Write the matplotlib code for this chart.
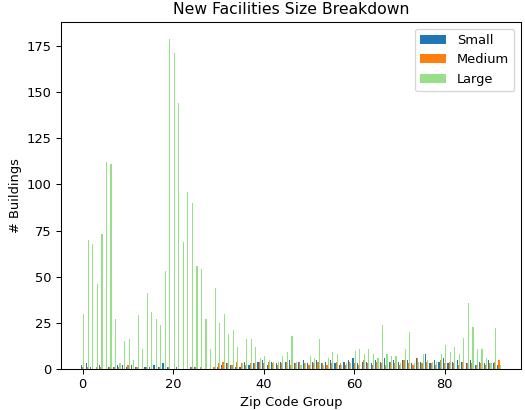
import numpy as np
import matplotlib
matplotlib.use("Agg")
import matplotlib.pyplot as plt

# counts per zip code group (index 0..92)
small = [2, 3, 1, 0, 2, 0, 1, 1, 2, 2, 1, 2, 1, 0, 1, 1, 2, 1, 3, 1,
         0, 1, 0, 0, 1, 1, 0, 0, 0, 0, 1, 2, 3, 2, 1, 1, 4, 2, 3, 4,
         5, 2, 4, 3, 4, 4, 5, 3, 4, 5, 3, 4, 5, 3, 4, 5, 3, 2, 4, 5,
         6, 3, 4, 4, 3, 5, 4, 6, 4, 5, 4, 5, 5, 3, 6, 4, 8, 3, 5, 4,
         6, 3, 4, 5, 4, 3, 5, 2, 4, 3, 5, 3, 2]
medium = [1, 1, 0, 1, 1, 0, 1, 1, 1, 0, 2, 0, 1, 0, 1, 0, 0, 1, 0, 1,
          0, 0, 0, 0, 1, 1, 1, 0, 0, 1, 3, 4, 3, 2, 4, 3, 2, 3, 3, 4,
          3, 4, 3, 2, 3, 4, 2, 3, 4, 3, 2, 3, 4, 3, 2, 3, 4, 3, 2, 4,
          3, 2, 5, 3, 2, 4, 3, 2, 4, 3, 2, 5, 3, 2, 6, 3, 4, 3, 2, 5,
          3, 4, 3, 2, 4, 3, 3, 2, 3, 2, 3, 4, 5]
large = [30, 70, 68, 46, 73, 112, 111, 27, 3, 15, 16, 5, 29, 11, 41, 31, 27, 24, 53, 179,
         171, 144, 69, 96, 90, 56, 54, 27, 11, 44, 25, 30, 19, 21, 12, 3, 16, 16, 12, 6,
         7, 5, 4, 4, 7, 9, 18, 4, 2, 3, 7, 6, 16, 2, 6, 9, 8, 2, 3, 3,
         10, 11, 8, 11, 8, 6, 24, 8, 7, 7, 3, 11, 20, 3, 4, 8, 5, 4, 4, 8,
         13, 9, 12, 8, 17, 36, 23, 11, 11, 6, 3, 22, 2]

x = np.arange(len(large))
w = 0.25

dpi = 94
fig, ax = plt.subplots(figsize=(525 / dpi, 410 / dpi), dpi=dpi)
fig.subplots_adjust(left=0.116, right=0.992, top=0.946, bottom=0.1)

ax.bar(x - w, small, w, color="#1f77b4", label="Small")
ax.bar(x, medium, w, color="#ff7f0e", label="Medium")
ax.bar(x + w, large, w, color="#98df8a", label="Large")
ax.margins(x=0.048)

ax.set_xlabel("Zip Code Group")
ax.set_ylabel("# Buildings")
ax.set_title("New Facilities Size Breakdown")
ax.legend(loc="upper right")

fig.savefig("out.png")
